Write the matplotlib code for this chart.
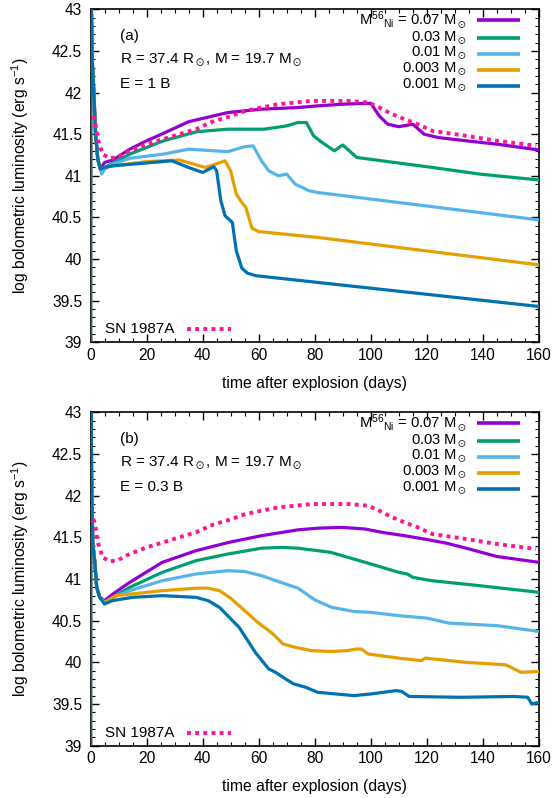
import numpy as np
import matplotlib
matplotlib.use("Agg")
import matplotlib.pyplot as plt
from matplotlib.ticker import MultipleLocator

plt.rcParams['font.family'] = ['Liberation Sans', 'DejaVu Sans']
plt.rcParams['mathtext.fontset'] = 'custom'
plt.rcParams['mathtext.rm'] = 'Liberation Sans'
plt.rcParams['mathtext.it'] = 'Liberation Sans'
plt.rcParams['mathtext.fallback'] = 'stixsans'

# --- Ni-mass labels and colours ---
ni_labels = ['M$^{56}$$_{\\rm Ni}$ = 0.07 M$_\\odot$', '0.03 M$_\\odot$', '0.01 M$_\\odot$',
             '0.003 M$_\\odot$', '0.001 M$_\\odot$']
ni_colors = ['#9400D3', '#009E73', '#56B4E9', '#E69F00', '#0072B2']
sn_color = '#FF1493'

# --- SN 1987A observed light curve ---
t_sn = [1.0, 1.6, 2.5, 4.3, 7, 10, 14, 20, 26, 31.6, 37.6, 43.5, 49.4, 55.4, 61, 67, 73, 79, 85,
        92, 99, 103, 107, 112, 116, 122, 134, 145, 159]
L_sn = [41.72, 41.67, 41.45, 41.26, 41.21, 41.23, 41.3, 41.38, 41.44, 41.5, 41.56, 41.65, 41.71,
        41.78, 41.82, 41.86, 41.88, 41.9, 41.9, 41.9, 41.88, 41.82, 41.75, 41.68, 41.63, 41.54,
        41.48, 41.42, 41.36]

# --- E = 1 B models ---
t_early_a = [0, 0.1, 0.6, 1.2, 1.8, 2.6, 3.5]
L_early_a = [38.5, 43.5, 42.4, 42.0, 41.5, 41.2, 41.08]

t_a_007 = [5, 8, 14, 20, 26, 35, 49, 61, 74, 81, 90, 98, 100, 103, 106, 110, 115, 119, 124, 134, 145, 160]
L_a_007 = [41.16, 41.19, 41.32, 41.42, 41.51, 41.65, 41.76, 41.8, 41.82, 41.84, 41.86, 41.87, 41.87,
           41.72, 41.62, 41.59, 41.62, 41.5, 41.46, 41.42, 41.38, 41.31]
t_a_003 = [5, 8, 14, 26, 38, 49, 62, 70, 74, 77, 79.6, 82.6, 87, 90, 95, 104, 122, 139, 160]
L_a_003 = [41.1, 41.15, 41.26, 41.42, 41.53, 41.56, 41.56, 41.6, 41.64, 41.64, 41.48, 41.4, 41.3,
           41.37, 41.22, 41.18, 41.1, 41.02, 40.95]
t_a_001 = [4, 5, 8, 14, 26, 35, 49, 55, 58, 61, 63.6, 67, 70, 73, 78, 81, 160]
L_a_001 = [41.02, 41.08, 41.14, 41.21, 41.26, 41.32, 41.29, 41.35, 41.36, 41.18, 41.06, 41.0, 41.02,
           40.9, 40.82, 40.8, 40.47]
t_a_0003 = [5, 8, 20, 31.6, 41, 48, 50, 52, 54, 55.4, 57.6, 60, 81, 160]
L_a_0003 = [41.1, 41.12, 41.17, 41.19, 41.1, 41.18, 41.06, 40.78, 40.68, 40.62, 40.37, 40.33, 40.26, 39.93]
t_a_0001 = [5, 8, 29, 35, 40, 44, 45, 46.5, 48, 50.6, 52, 54, 56, 59, 160]
L_a_0001 = [41.1, 41.12, 41.18, 41.1, 41.04, 41.11, 41.06, 40.7, 40.52, 40.44, 40.1, 39.89, 39.83, 39.8, 39.43]

# --- E = 0.3 B models ---
t_early_b = [0, 0.1, 0.4, 0.8, 1.5, 2.2, 3.3]
L_early_b = [38.5, 43.5, 42.2, 41.43, 41.22, 40.9, 40.78]

t_b_007 = [5, 8, 14, 25.6, 37.6, 49.4, 61, 74, 81, 89.6, 98, 104, 112, 119, 127, 134, 145, 160]
L_b_007 = [40.74, 40.82, 40.96, 41.2, 41.34, 41.44, 41.52, 41.59, 41.61, 41.62, 41.6, 41.56, 41.52,
           41.48, 41.43, 41.37, 41.27, 41.2]
t_b_003 = [5, 8, 14, 25.6, 37.6, 49, 61, 68, 74, 85.7, 98, 110, 113, 115, 121.6, 136, 160]
L_b_003 = [40.72, 40.78, 40.9, 41.08, 41.22, 41.3, 41.37, 41.38, 41.37, 41.32, 41.2, 41.08, 41.06,
           41.02, 40.98, 40.93, 40.84]
t_b_001 = [5, 8, 14, 25.6, 37.6, 49, 55, 61, 67, 74, 80, 86, 94, 100, 110, 120, 128, 145, 160]
L_b_001 = [40.72, 40.78, 40.86, 40.98, 41.06, 41.1, 41.09, 41.04, 40.97, 40.89, 40.75, 40.66, 40.61,
           40.6, 40.56, 40.53, 40.47, 40.44, 40.37]
t_b_0003 = [5, 9, 25.6, 37.6, 42, 46, 50, 55, 60, 64.8, 68.7, 73, 78.8, 86, 91.5, 95, 96.6, 99, 110,
            118, 119.4, 134, 148, 150, 153.6, 160]
L_b_0003 = [40.71, 40.8, 40.86, 40.89, 40.89, 40.86, 40.77, 40.62, 40.47, 40.35, 40.22, 40.18, 40.14,
            40.13, 40.14, 40.16, 40.16, 40.1, 40.05, 40.02, 40.05, 40.0, 39.97, 39.94, 39.88, 39.89]
t_b_0001 = [5, 7.8, 15, 25.6, 37.6, 42, 46, 53, 59, 63.6, 66, 69.6, 72.5, 76.8, 81, 94, 100, 109, 111,
            113.7, 132, 151, 156, 157.4, 160]
L_b_0001 = [40.7, 40.74, 40.78, 40.8, 40.78, 40.74, 40.66, 40.42, 40.11, 39.92, 39.88, 39.8, 39.74,
            39.7, 39.64, 39.6, 39.62, 39.66, 39.65, 39.59, 39.58, 39.59, 39.58, 39.5, 39.52]

panels = [
    ('(a)', 'E = 1 B', t_early_a, L_early_a,
     [(t_a_007, L_a_007), (t_a_003, L_a_003), (t_a_001, L_a_001), (t_a_0003, L_a_0003), (t_a_0001, L_a_0001)]),
    ('(b)', 'E = 0.3 B', t_early_b, L_early_b,
     [(t_b_007, L_b_007), (t_b_003, L_b_003), (t_b_001, L_b_001), (t_b_0003, L_b_0003), (t_b_0001, L_b_0001)]),
]

fig = plt.figure(figsize=(5.57, 7.98), dpi=100)
W, H = 557, 798
boxes = [(90.5, 9.3, 539, 342.3), (90.5, 412.4, 539, 745.6)]

for (tag, energy, t0, L0, models), (x0, y0, x1, y1) in zip(panels, boxes):
    ax = fig.add_axes([x0 / W, 1 - y1 / H, (x1 - x0) / W, (y1 - y0) / H])

    for (t, L), c in zip(models, ni_colors):
        ax.plot(t0 + t, L0 + L, color=c, lw=2.3, solid_joinstyle='round', zorder=3)
    ax.plot(t_sn, L_sn, color=sn_color, lw=2.8, linestyle=(0, (1, 1.1)), zorder=4)

    ax.set_xlim(0, 160)
    ax.set_ylim(39, 43)
    ax.xaxis.set_major_locator(MultipleLocator(20))
    ax.xaxis.set_minor_locator(MultipleLocator(5))
    ax.yaxis.set_minor_locator(MultipleLocator(0.1))
    ax.set_yticks(np.arange(39, 43.01, 0.5))
    ax.set_yticklabels(['39', '39.5', '40', '40.5', '41', '41.5', '42', '42.5', '43'])
    ax.tick_params(which='both', direction='in', top=True, right=True, labelsize=11.2)
    ax.tick_params(which='major', length=6, width=1)
    ax.tick_params(which='minor', length=3, width=0.8)
    ax.tick_params(axis='y', pad=6)
    ax.tick_params(axis='x', pad=4)
    for s in ax.spines.values():
        s.set_linewidth(1.2)

    ax.set_xlabel('time after explosion (days)', fontsize=11.3, labelpad=9.5)
    ax.set_ylabel('log bolometric luminosity (erg s$^{-1}$)', fontsize=11.3, labelpad=15)

    # model parameters
    ax.text(0.066, 0.920, tag, transform=ax.transAxes, fontsize=11, va='center')
    ax.text(0.066, 0.848, 'R = 37.4 R$_\\odot$, M = 19.7 M$_\\odot$', transform=ax.transAxes,
            fontsize=11, va='center')
    ax.text(0.066, 0.776, energy, transform=ax.transAxes, fontsize=11, va='center')

    # key, gnuplot style: right-aligned labels with samples on the right
    rows = [0.968, 0.914, 0.867, 0.819, 0.771]
    for lab, c, yy in zip(ni_labels, ni_colors, rows):
        ax.text(0.839, yy, lab, transform=ax.transAxes, fontsize=10.6, ha='right', va='center')
        ax.plot([0.862, 0.958], [yy, yy], transform=ax.transAxes, color=c, lw=2.6,
                solid_capstyle='butt', clip_on=False)
    ax.text(0.032, 0.039, 'SN 1987A', transform=ax.transAxes, fontsize=11, va='center')
    ax.plot([0.215, 0.313], [0.039, 0.039], transform=ax.transAxes, color=sn_color, lw=2.8,
            linestyle=(0, (1, 1.1)), clip_on=False)

fig.savefig('out.png', dpi=100)
